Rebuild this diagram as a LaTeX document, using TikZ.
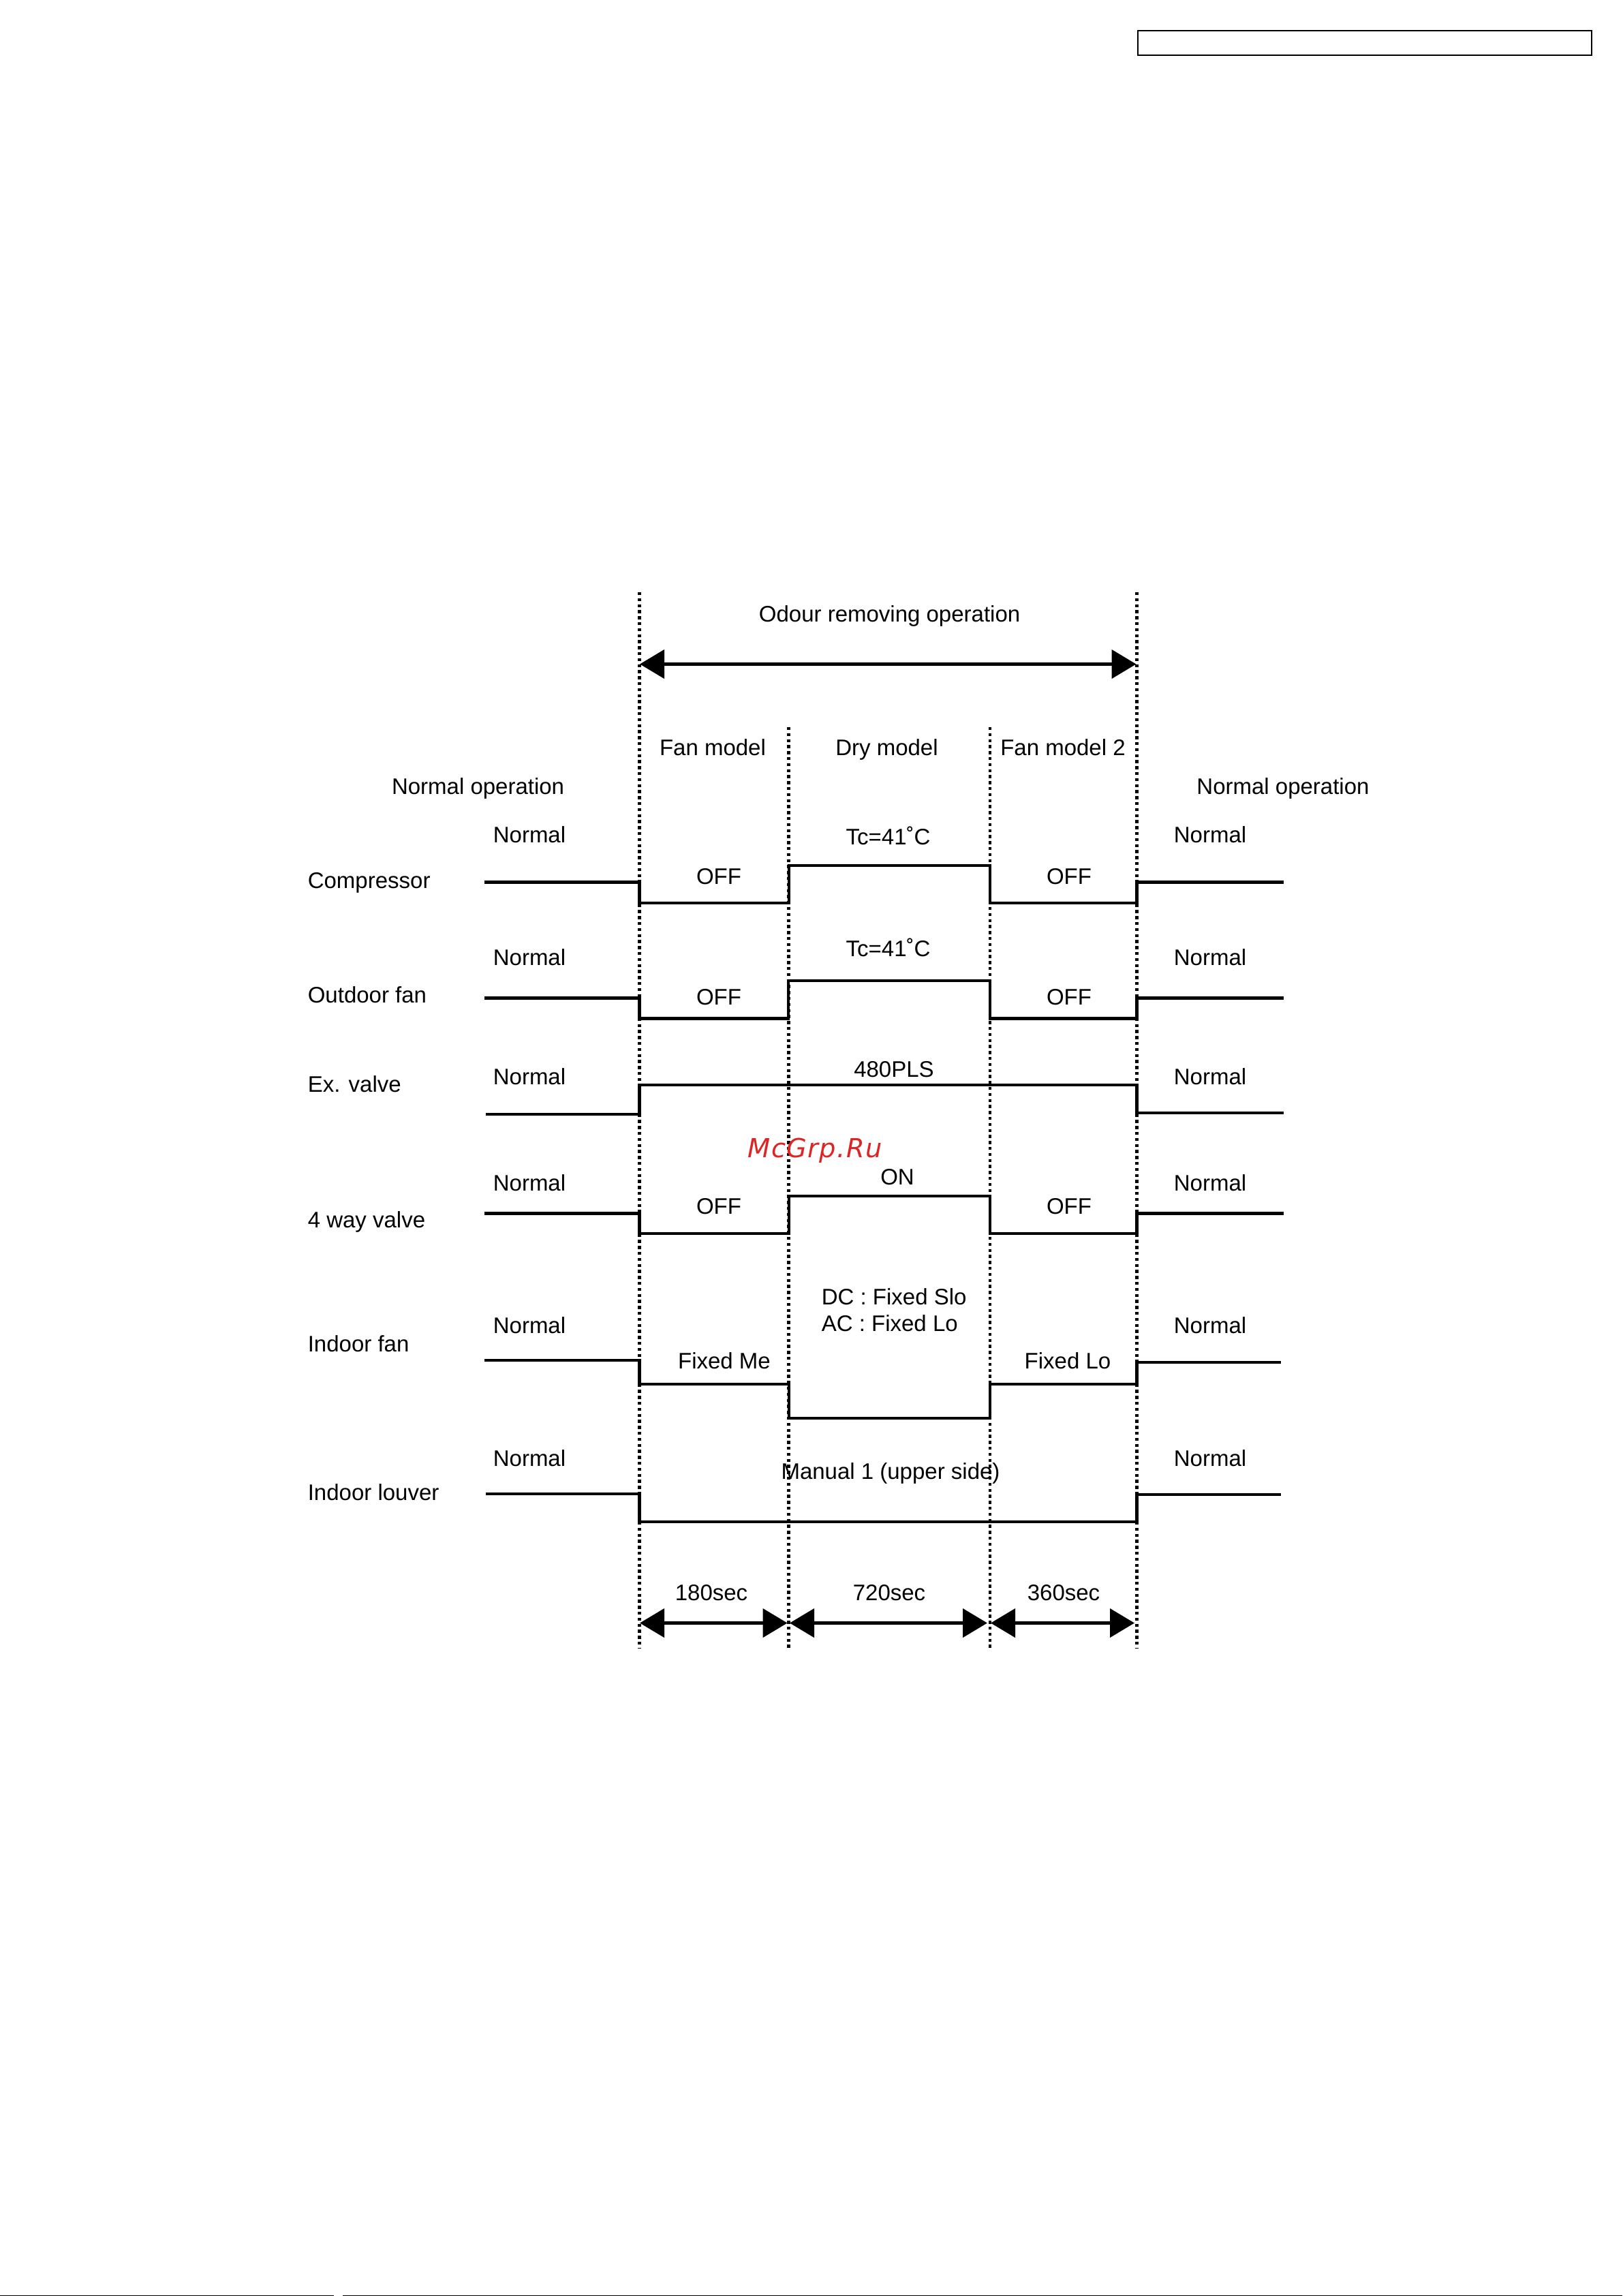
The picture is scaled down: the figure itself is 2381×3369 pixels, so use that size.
\documentclass[tikz,border=0pt]{standalone}
\usepackage{fontspec}
\setmainfont{Liberation Sans}
\newfontfamily\watermarkfont[LetterSpace=3.5]{DejaVu Sans}
\usetikzlibrary{arrows.meta}
\definecolor{watermarkred}{RGB}{220,38,38}
\tikzset{
	label-text/.style={inner sep=0pt, anchor=base, font=\fontsize{8.25}{10}\selectfont},
	row-text/.style={label-text, anchor=base west},
	trace/.style={line width=1.1pt, line join=miter},
	edge-line/.style={line width=1.15pt, dash pattern=on 1.1pt off 1.1pt},
	span-arrow/.style={{Triangle[length=9pt,width=10.5pt]}-{Triangle[length=9pt,width=10.5pt]}, line width=1.05pt}
}

\begin{document}
\begin{tikzpicture}[x=0.25pt, y=-0.25pt]
	\useasboundingbox (0, 0) rectangle (2381, 3369);

	\coordinate (header-box-corner-a) at (1670, 45);
	\coordinate (header-box-corner-b) at (2336, 81);
	\draw[line width=0.7pt] (header-box-corner-a) rectangle (header-box-corner-b);

	% page foot
	\coordinate (foot-a) at (0, 3368.4);
	\coordinate (foot-b) at (490, 3368.4);
	\coordinate (foot-c) at (503, 3368.4);
	\coordinate (foot-d) at (2381, 3368.4);
	\draw[line width=0.35pt] (foot-a) -- (foot-b);
	\draw[line width=0.35pt] (foot-c) -- (foot-d);

	% phase borders
	\coordinate (edge-a-top) at (938.5, 869);
	\coordinate (edge-a-bottom) at (938.5, 2418);
	\coordinate (edge-b-top) at (1157.7, 1067);
	\coordinate (edge-b-bottom) at (1157.7, 2418);
	\coordinate (edge-c-top) at (1453, 1067);
	\coordinate (edge-c-bottom) at (1453, 2418);
	\coordinate (edge-d-top) at (1668.6, 869);
	\coordinate (edge-d-bottom) at (1668.6, 2418);
	\draw[edge-line] (edge-a-top) -- (edge-a-bottom);
	\draw[edge-line] (edge-b-top) -- (edge-b-bottom);
	\draw[edge-line] (edge-c-top) -- (edge-c-bottom);
	\draw[edge-line] (edge-d-top) -- (edge-d-bottom);

	\coordinate (odour-span-start) at (939, 974.5);
	\coordinate (odour-span-end) at (1667.5, 974.5);
	\draw[span-arrow] (odour-span-start) -- (odour-span-end);

	\node[label-text] at (1305.6, 912) (odour-text) {Odour removing operation};
	\node[label-text] at (1046, 1108) (fan-model-text) {Fan model};
	\node[label-text] at (1301.5, 1108) (dry-model-text) {Dry model};
	\node[label-text] at (1560, 1108) (fan-model-two-text) {Fan model 2};
	\node[label-text] at (701.6, 1165) (normal-operation-left-text) {Normal operation};
	\node[label-text] at (1883, 1165) (normal-operation-right-text) {Normal operation};

	% compressor
	\coordinate (compressor-start) at (711, 1294.5);
	\coordinate (compressor-a) at (938.5, 1325);
	\coordinate (compressor-b) at (1157.7, 1270);
	\coordinate (compressor-c) at (1453, 1325);
	\coordinate (compressor-d) at (1668.6, 1294.5);
	\coordinate (compressor-end) at (1883.6, 1294.5);
	\draw[trace] (compressor-start) -| (compressor-a) -| (compressor-b) -| (compressor-c) -| (compressor-d) -- (compressor-end);
	\node[row-text] at (451, 1303.5) (compressor-text) {Compressor};
	\node[label-text] at (777, 1236) (compressor-normal-left) {Normal};
	\node[label-text] at (1776, 1236) (compressor-normal-right) {Normal};
	\node[label-text] at (1055, 1297) (compressor-off-left) {OFF};
	\node[label-text] at (1569, 1297) (compressor-off-right) {OFF};
	\node[label-text] at (1303.5, 1239) (compressor-tc) {Tc=41˚C};

	% outdoor fan
	\coordinate (outdoor-start) at (711, 1464.5);
	\coordinate (outdoor-a) at (938.5, 1494.5);
	\coordinate (outdoor-b) at (1157, 1439);
	\coordinate (outdoor-c) at (1453, 1494.5);
	\coordinate (outdoor-d) at (1668.6, 1464.5);
	\coordinate (outdoor-end) at (1883.6, 1464.5);
	\draw[trace] (outdoor-start) -| (outdoor-a) -| (outdoor-b) -| (outdoor-c) -| (outdoor-d) -- (outdoor-end);
	\node[row-text] at (451, 1471) (outdoor-text) {Outdoor fan};
	\node[label-text] at (777, 1416) (outdoor-normal-left) {Normal};
	\node[label-text] at (1776, 1416) (outdoor-normal-right) {Normal};
	\node[label-text] at (1055, 1474) (outdoor-off-left) {OFF};
	\node[label-text] at (1569, 1474) (outdoor-off-right) {OFF};
	\node[label-text] at (1303.5, 1403) (outdoor-tc) {Tc=41˚C};

	% ex. valve
	\coordinate (valve-start) at (713, 1635);
	\coordinate (valve-a) at (938.5, 1592);
	\coordinate (valve-b) at (1668.6, 1633);
	\coordinate (valve-end) at (1883.6, 1633);
	\draw[trace] (valve-start) -| (valve-a) -| (valve-b) -- (valve-end);
	\node[row-text] at (451, 1602) (valve-text) {Ex. valve};
	\node[label-text] at (777, 1591) (valve-normal-left) {Normal};
	\node[label-text] at (1776, 1591) (valve-normal-right) {Normal};
	\node[label-text] at (1312, 1580) (valve-pls) {480PLS};

	% 4 way valve
	\coordinate (four-way-start) at (711, 1780.5);
	\coordinate (four-way-a) at (938.5, 1810);
	\coordinate (four-way-b) at (1157.7, 1755);
	\coordinate (four-way-c) at (1453, 1810);
	\coordinate (four-way-d) at (1668.6, 1780.5);
	\coordinate (four-way-end) at (1883.6, 1780.5);
	\draw[trace] (four-way-start) -| (four-way-a) -| (four-way-b) -| (four-way-c) -| (four-way-d) -- (four-way-end);
	\node[row-text] at (451, 1801) (four-way-text) {4 way valve};
	\node[label-text] at (777, 1747) (four-way-normal-left) {Normal};
	\node[label-text] at (1776, 1747) (four-way-normal-right) {Normal};
	\node[label-text] at (1055, 1781) (four-way-off-left) {OFF};
	\node[label-text] at (1569, 1781) (four-way-off-right) {OFF};
	\node[label-text] at (1317, 1738) (four-way-on) {ON};

	% indoor fan
	\coordinate (indoor-start) at (711, 1996);
	\coordinate (indoor-a) at (938.5, 2031);
	\coordinate (indoor-b) at (1157.7, 2081);
	\coordinate (indoor-c) at (1453, 2031);
	\coordinate (indoor-d) at (1668.6, 1999);
	\coordinate (indoor-end) at (1880, 1999);
	\draw[trace] (indoor-start) -| (indoor-a) -| (indoor-b) -| (indoor-c) -| (indoor-d) -- (indoor-end);
	\node[row-text] at (451, 1983) (indoor-text) {Indoor fan};
	\node[label-text] at (777, 1956) (indoor-normal-left) {Normal};
	\node[label-text] at (1776, 1956) (indoor-normal-right) {Normal};
	\node[label-text] at (1063, 2008) (indoor-fixed-me) {Fixed Me};
	\node[label-text] at (1567, 2008) (indoor-fixed-lo) {Fixed Lo};
	\node[row-text] at (1205, 1914) (indoor-dc) {DC : Fixed Slo};
	\node[row-text] at (1205, 1953.5) (indoor-ac) {AC : Fixed Lo};

	% indoor louver
	\coordinate (louver-start) at (713, 2192);
	\coordinate (louver-a) at (938.5, 2233);
	\coordinate (louver-b) at (1668.6, 2193);
	\coordinate (louver-end) at (1880, 2193);
	\draw[trace] (louver-start) -| (louver-a) -| (louver-b) -- (louver-end);
	\node[row-text] at (451, 2201) (louver-text) {Indoor louver};
	\node[label-text] at (777, 2151) (louver-normal-left) {Normal};
	\node[label-text] at (1776, 2151) (louver-normal-right) {Normal};
	\node[label-text] at (1307, 2170) (louver-manual) {Manual 1 (upper side)};

	% durations
	\coordinate (time-a-start) at (939, 2381.5);
	\coordinate (time-a-end) at (1155.6, 2381.5);
	\coordinate (time-b-start) at (1159, 2381.5);
	\coordinate (time-b-end) at (1449, 2381.5);
	\coordinate (time-c-start) at (1454, 2381.5);
	\coordinate (time-c-end) at (1665, 2381.5);
	\draw[span-arrow] (time-a-start) -- (time-a-end);
	\draw[span-arrow] (time-b-start) -- (time-b-end);
	\draw[span-arrow] (time-c-start) -- (time-c-end);
	\node[label-text] at (1044, 2348) (time-a-text) {180sec};
	\node[label-text] at (1305, 2348) (time-b-text) {720sec};
	\node[label-text] at (1561, 2348) (time-c-text) {360sec};

	\node[row-text, font=\watermarkfont\itshape\fontsize{9.6}{10}\selectfont, text=watermarkred] at (1097, 1698.5) (watermark-text) {McGrp.Ru};
\end{tikzpicture}
\end{document}
